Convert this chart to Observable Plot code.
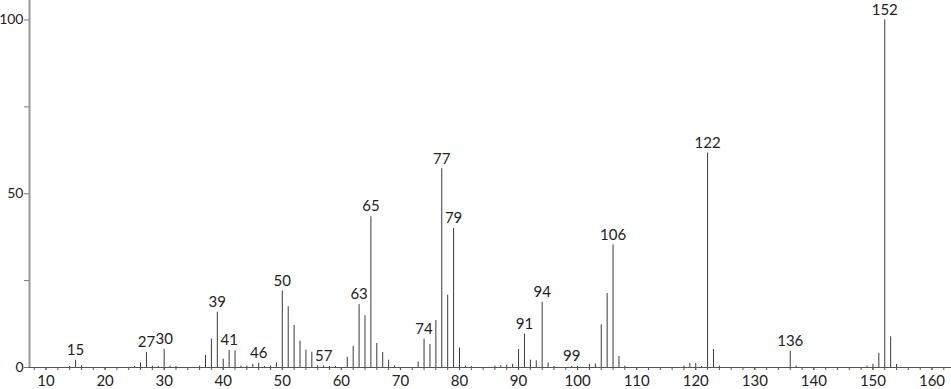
<!DOCTYPE html>
<html>
<head>
<meta charset="utf-8">
<script src="https://cdn.jsdelivr.net/npm/d3@7"></script>
<script src="https://cdn.jsdelivr.net/npm/@observablehq/plot@0.6"></script>
<style>
  html, body { margin: 0; padding: 0; background: #fff; }
  #chart svg { display: block; }
</style>
</head>
<body>
<div id="chart"></div>
<script>
// m/z values and relative intensities (%)
const mz = [14, 15, 16, 25, 26, 27, 28, 29, 30, 31, 32, 36, 37, 38, 39, 40, 41, 42, 43, 44, 45, 46, 47, 48, 49,
  50, 51, 52, 53, 54, 55, 56, 57, 58, 59, 61, 62, 63, 64, 65, 66, 67, 68, 69, 73, 74, 75, 76, 77, 78, 79, 80, 81, 82,
  86, 87, 88, 89, 90, 91, 92, 93, 94, 95, 96, 99, 100, 102, 103, 104, 105, 106, 107, 108,
  118, 119, 120, 121, 122, 123, 124, 136, 137, 149, 150, 151, 152, 153, 154];
const intensity = [0.3, 2.1, 0.5, 0.3, 1.3, 4.3, 0.4, 0.3, 5.2, 0.4, 0.3, 0.4, 3.5, 8.2, 15.9, 2.4, 4.9, 4.8, 0.4, 0.4, 0.9, 1.2, 0.3, 0.4, 1.3,
  22.0, 17.5, 12.1, 7.6, 5.0, 4.4, 0.5, 0.5, 0.3, 0.3, 2.9, 6.1, 18.1, 14.9, 43.4, 6.9, 4.3, 2.1, 0.4, 1.6, 8.2, 6.6, 13.5, 57.2, 20.8, 40.0, 5.6, 0.4, 0.3,
  0.4, 0.5, 0.7, 0.9, 5.2, 9.6, 2.1, 1.9, 18.8, 1.3, 0.3, 0.3, 0.3, 0.9, 1.0, 12.3, 21.3, 35.3, 3.2, 0.4,
  0.4, 1.2, 1.2, 0.3, 61.7, 5.2, 0.4, 4.7, 0.4, 0.4, 0.9, 4.1, 100, 8.8, 0.9];
const labeledPeaks = [15, 27, 30, 39, 41, 46, 50, 57, 63, 65, 74, 77, 79, 91, 94, 99, 106, 122, 136, 152];
const xTickLabels = [10, 20, 30, 40, 50, 60, 70, 80, 90, 100, 110, 120, 130, 140, 150, 160];
const yTickLabels = [0, 50, 100];
const yMinorTicks = [25, 75];
const xMinorTicks = d3.range(8, 164, 2);
const xDomain = [7.2, 163.3];
const yDomain = [0, 105.6];

const peaks = mz.map((m, i) => ({mz: m, value: intensity[i]}));
const labels = peaks.filter(d => labeledPeaks.includes(d.mz));

const font = "Lato, 'DejaVu Sans', sans-serif";

const chart = Plot.plot({
  width: 951,
  height: 389,
  marginLeft: 29,
  marginRight: 0,
  marginTop: 0,
  marginBottom: 22,
  style: {fontFamily: font, fontSize: "15px", color: "#222", background: "#fff"},
  x: {domain: xDomain, label: null},
  y: {domain: yDomain, label: null},
  marks: [
    Plot.axisX(xMinorTicks, {tickSize: 3, stroke: "#555", text: null, label: null}),
    Plot.axisX(xTickLabels, {tickSize: 3, tickPadding: 5, stroke: "#555", fontSize: 15, fill: "#222", label: null}),
    Plot.axisY(yMinorTicks, {tickSize: 5, text: null, stroke: "#777", label: null}),
    Plot.axisY(yTickLabels, {tickSize: 5, tickPadding: 1, stroke: "#777", fontSize: 14, fill: "#222", label: null}),
    Plot.ruleX([xDomain[0]], {y1: yDomain[0], y2: yDomain[1], stroke: "#999", strokeWidth: 2}),
    Plot.ruleY([0], {stroke: "#555", strokeWidth: 1}),
    Plot.ruleX(peaks, {x: "mz", y1: 0, y2: "value", stroke: "#3a3a3a", strokeWidth: 1}),
    Plot.text(labels, {x: "mz", y: "value", text: d => String(d.mz), dy: -10, fontSize: 15, fill: "#222", fontFamily: font})
  ]
});
document.getElementById("chart").appendChild(chart);
</script>
</body>
</html>
